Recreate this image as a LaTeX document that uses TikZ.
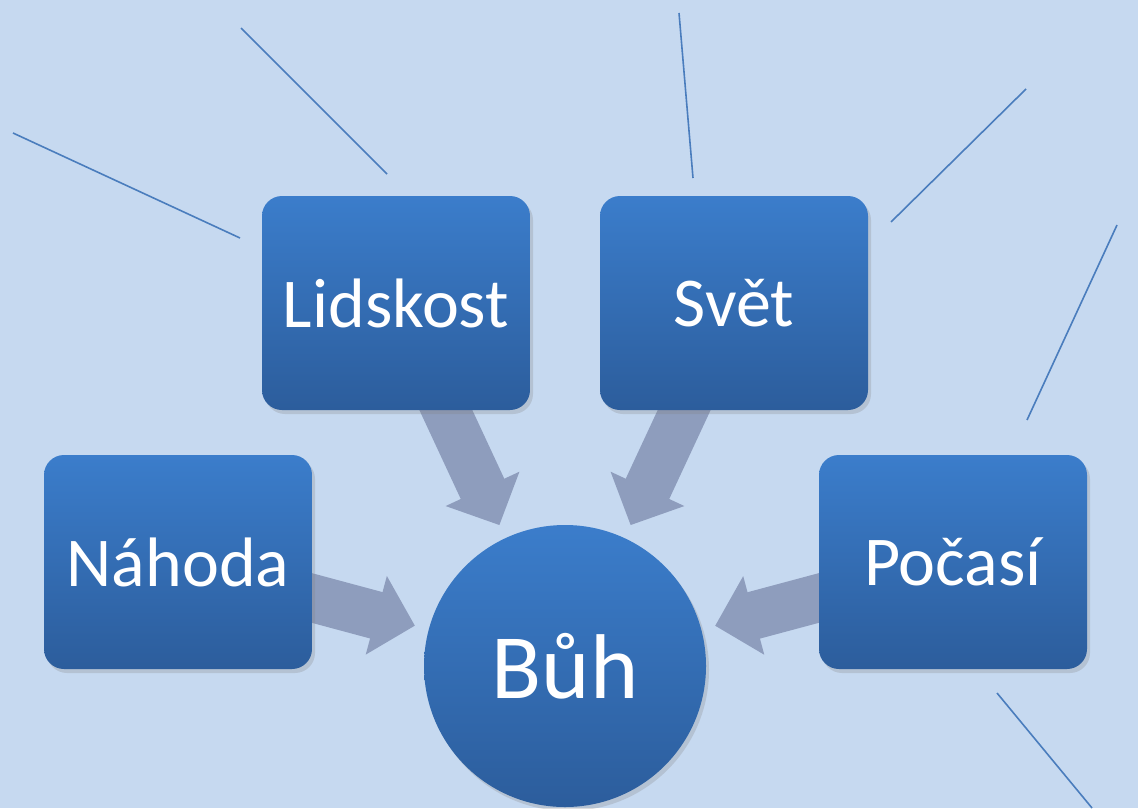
\documentclass[tikz,border=0pt]{standalone}
\usepackage{fontspec}
\setmainfont{Carlito}
\usetikzlibrary{arrows.meta, shadows}
\definecolor{bgblue}{HTML}{C6D9F0}
\definecolor{boxtop}{HTML}{3B7DCB}
\definecolor{boxbot}{HTML}{2C5D9C}
\definecolor{arrowgray}{HTML}{8E9DBD}
\definecolor{linebl}{HTML}{4A7DBD}
\pgfdeclarelayer{bg}
\pgfdeclarelayer{mid}
\pgfsetlayers{bg,mid,main}

\begin{document}
\begin{tikzpicture}[x=0.5pt, y=-0.5pt,
    box/.style={rectangle, rounded corners=10pt, minimum width=134pt, minimum height=107pt,
      top color=boxtop, bottom color=boxbot, text=white, font=\fontsize{35}{42}\selectfont,
      drop shadow={opacity=0.25, shadow xshift=1.5pt, shadow yshift=-2pt}},
    bigarrow/.style={draw=arrowgray, line width=24pt, -{Triangle[width=39.5pt, length=20pt]}, shorten >=7pt},
    deco/.style={draw=linebl, line width=0.8pt}]
  \useasboundingbox (0,0) rectangle (1138,808);
  \begin{pgfonlayer}{bg}
    \fill[bgblue] (0,0) rectangle (1138,808);
  \end{pgfonlayer}

  % lines round the picture
  \draw[deco] (13,133) -- (240,238);
  \draw[deco] (241,28) -- (387,174);
  \draw[deco] (679,13) -- (693,178);
  \draw[deco] (1026,89) -- (891,222);
  \draw[deco] (1117,225) -- (1027,420);
  \draw[deco] (997,693) -- (1092,808);

  \node[box] (lid) at (396,303) {Lidskost};
  \node[box] (svet) at (734,303) {Svět};
  \node[box] (nah) at (178,562) {Náhoda};
  \node[box] (poc) at (953,562) {Počasí};
  \node[box, circle, rounded corners=0pt, minimum size=141pt, inner sep=0pt,
    font=\fontsize{46}{52}\selectfont] (buh) at (565,666) {Bůh};

  \begin{pgfonlayer}{mid}
    \draw[bigarrow] (lid.center) -- (buh);
    \draw[bigarrow] (svet.center) -- (buh);
    \draw[bigarrow] (nah.center) -- (buh);
    \draw[bigarrow] (poc.center) -- (buh);
  \end{pgfonlayer}
\end{tikzpicture}
\end{document}
